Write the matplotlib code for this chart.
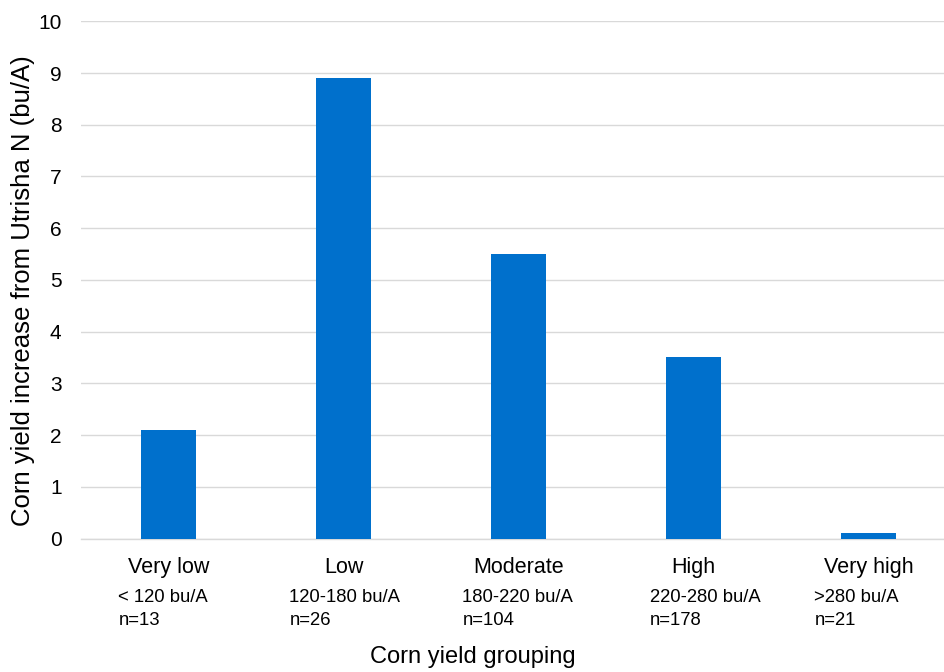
import matplotlib
matplotlib.use("Agg")
import matplotlib.pyplot as plt
import numpy as np

categories = ["Very low", "Low", "Moderate", "High", "Very high"]
ranges = ["< 120 bu/A", "120-180 bu/A", "180-220 bu/A", "220-280 bu/A", ">280 bu/A"]
counts = ["n=13", "n=26", "n=104", "n=178", "n=21"]
values = [2.1, 8.9, 5.5, 3.5, 0.1]
yticks = list(range(0, 11))

plt.rcParams['font.family'] = ['Liberation Sans', 'DejaVu Sans']

fig = plt.figure(figsize=(9.45, 6.72), dpi=100)
ax = fig.add_axes([81/945, 1-538.5/672, 875/945, (538.5-21.3)/672])

x = np.arange(len(categories))
ax.bar(x, values, width=0.315, color='#0070CC', zorder=3)

ax.set_xlim(-0.5, len(categories)-0.5)
ax.set_ylim(0, 10)
ax.set_yticks(yticks)
ax.set_yticklabels([str(t) for t in yticks], fontsize=15, color='#000000')
ax.yaxis.grid(True, color='#D9D9D9', linewidth=1.0, zorder=0)
ax.tick_params(axis='y', length=0, pad=14)
ax.tick_params(axis='x', length=0, pad=13)
ax.set_xticks(x)
ax.set_xticklabels(categories, fontsize=15.5)
for s in ['top', 'right', 'left']:
    ax.spines[s].set_visible(False)
ax.spines['bottom'].set_color('#D9D9D9')
ax.spines['bottom'].set_linewidth(1.0)

offsets = [-0.286, -0.309, -0.32, -0.251, -0.309]
trans = ax.get_xaxis_transform()
for i in range(len(categories)):
    ax.text(x[i] + offsets[i], -0.115, ranges[i], transform=trans, fontsize=13.3,
            ha='left', va='center')
    ax.text(x[i] + offsets[i], -0.158, counts[i], transform=trans, fontsize=13.3,
            ha='left', va='center')

fig.text(473/945, 1-657/672, "Corn yield grouping", fontsize=17,
         ha='center', va='center')
fig.text(23/945, 1-291/672, "Corn yield increase from Utrisha N (bu/A)", fontsize=18.5,
         rotation=90, ha='center', va='center')

fig.savefig("out.png", dpi=100)
